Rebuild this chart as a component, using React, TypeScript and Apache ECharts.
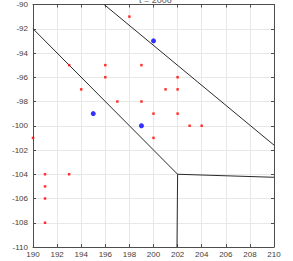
import React, { useEffect, useRef } from "react";
import * as echarts from "echarts";

const xTicks = [190, 192, 194, 196, 198, 200, 202, 204, 206, 208, 210];
const yTicks = [-110, -108, -106, -104, -102, -100, -98, -96, -94, -92, -90];

const redPoints: [number, number][] = [
  [198, -91], [193, -95], [196, -95], [199, -95], [196, -96], [202, -96],
  [194, -97], [201, -97], [202, -97], [197, -98], [199, -98], [200, -99],
  [202, -99], [203, -100], [204, -100], [190, -101], [200, -101],
  [191, -104], [193, -104], [191, -105], [191, -106], [191, -108],
];
const bluePoints: [number, number][] = [[200, -93], [195, -99], [199, -100]];

const edgeA: [number, number][] = [[190, -92], [202, -104]];
const edgeB: [number, number][] = [[195.9, -90], [210, -101.6]];
const edgeC: [number, number][] = [[202, -104], [210, -104.25]];
const edgeD: [number, number][] = [[202, -104], [201.95, -110]];

export default function App() {
  const ref = useRef<HTMLDivElement>(null);
  useEffect(() => {
    if (!ref.current) return;
    const chart = echarts.init(ref.current, undefined, { renderer: "svg" });
    const labelStyle = {
      color: "#404040", fontSize: 8, fontFamily: "Liberation Sans",
      showMinLabel: true, showMaxLabel: true, hideOverlap: false,
    };
    const splitLine = { show: true, lineStyle: { color: "#e8e8e8", width: 1 } };
    const axisLine = { show: true, onZero: false, lineStyle: { color: "#4d4d4d", width: 1 } };
    const tick = { show: true, inside: true, length: 3, lineStyle: { color: "#4d4d4d" } };
    const lineSeries = (data: [number, number][]) => ({
      type: "line",
      data,
      symbol: "none",
      lineStyle: { color: "#2a2a2a", width: 1 },
      silent: true,
      z: 1,
    });
    chart.setOption({
      animation: false,
      backgroundColor: "#ffffff",
      title: {
        text: "t = 2006",
        left: 134,
        top: -10,
        textStyle: { fontSize: 9, color: "#606060", fontWeight: "normal", fontFamily: "Liberation Sans" },
      },
      grid: { left: 33, right: 19, top: 4.5, bottom: 14, containLabel: false },
      xAxis: [
        {
          type: "value", min: 190, max: 210, interval: 2, position: "bottom",
          axisLine, axisTick: tick, splitLine,
          axisLabel: { ...labelStyle, margin: 3 },
        },
        {
          type: "value", min: 190, max: 210, interval: 2, position: "top",
          axisLine, axisTick: tick, splitLine: { show: false },
          axisLabel: { show: false },
        },
      ],
      yAxis: [
        {
          type: "value", min: -110, max: -90, interval: 2, position: "left",
          axisLine, axisTick: tick, splitLine,
          axisLabel: { ...labelStyle, margin: 5 },
        },
        {
          type: "value", min: -110, max: -90, interval: 2, position: "right",
          axisLine, axisTick: tick, splitLine: { show: false },
          axisLabel: { show: false },
        },
      ],
      series: [
        lineSeries(edgeA),
        lineSeries(edgeB),
        lineSeries(edgeC),
        lineSeries(edgeD),
        {
          type: "scatter", data: redPoints, symbol: "rect", symbolSize: 2.5,
          itemStyle: { color: "#ff0000" }, z: 3,
        },
        {
          type: "scatter", data: bluePoints, symbol: "circle", symbolSize: 5,
          itemStyle: { color: "#0000ff" }, z: 4,
        },
      ],
    });
    return () => chart.dispose();
  }, []);
  return (
    <div
      ref={ref}
      style={{ position: "absolute", left: 0, top: 0, width: 293, height: 261 }}
    />
  );
}
